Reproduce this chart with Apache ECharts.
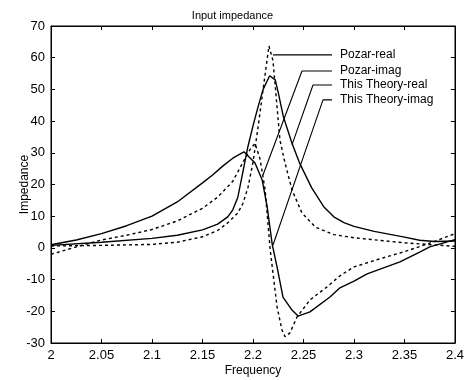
<!DOCTYPE html>
<html>
<head>
<meta charset="utf-8">
<script src="https://cdn.jsdelivr.net/npm/echarts@6/dist/echarts.min.js"></script>
<style>
  html, body { margin: 0; padding: 0; background: #fff; }
  #chart { width: 465px; height: 380px; }
</style>
</head>
<body>
<div id="chart"></div>
<script>
// curves: [frequency, impedance]
const theoryReal = [
  [2.0, 0.8], [2.05, 1.8], [2.1, 3.0], [2.125, 4.0], [2.15, 5.7], [2.165, 7.5],
  [2.175, 9.8], [2.18, 12], [2.185, 16], [2.19, 24], [2.195, 32], [2.2, 38.5],
  [2.205, 44.5], [2.21, 50], [2.2165, 54.3], [2.222, 53], [2.225, 49], [2.23, 41.5],
  [2.2386, 33], [2.2465, 26.5], [2.258, 19], [2.27, 13], [2.28, 9.8], [2.29, 8],
  [2.3, 6.8], [2.32, 5.2], [2.35, 3.4], [2.365, 2.4], [2.38, 2], [2.4, 2.2]
];
const theoryImag = [
  [2.0, 1], [2.025, 2.5], [2.05, 4.5], [2.075, 7], [2.1, 10], [2.125, 14.5],
  [2.15, 20.5], [2.16, 23], [2.17, 25.8], [2.18, 28.3], [2.191, 30.3], [2.202, 26.8],
  [2.209, 21.5], [2.214, 13], [2.219, 1.2], [2.2238, -6], [2.2297, -15.5],
  [2.2386, -19.6], [2.2446, -21.5], [2.2564, -20.2], [2.2762, -15.5], [2.2861, -12.6],
  [2.3, -10.5], [2.313, -8.2], [2.3455, -4.4], [2.365, -1.3], [2.375, 0.3], [2.4, 2.6]
];
const pozarReal = [
  [2.0, 0.6], [2.05, 0.8], [2.1, 1.1], [2.125, 1.8], [2.15, 3.5], [2.165, 5.5],
  [2.175, 7.9], [2.185, 11], [2.19, 14], [2.195, 19], [2.2, 27], [2.205, 38],
  [2.21, 50], [2.2158, 63.7], [2.2198, 59], [2.2238, 44.5], [2.2267, 34],
  [2.2317, 26.8], [2.2386, 18.3], [2.2485, 11], [2.262, 6.5], [2.28, 4.2],
  [2.3, 3.2], [2.35, 1.6], [2.4, 0.5]
];
const pozarImag = [
  [2.0, -2], [2.025, 0.3], [2.05, 2.5], [2.075, 4], [2.1, 5.8], [2.125, 8.5],
  [2.15, 12.5], [2.165, 16], [2.18, 21], [2.19, 27], [2.197, 31], [2.202, 33],
  [2.207, 28], [2.212, 18.3], [2.217, -0.5], [2.2198, -8], [2.2238, -18.6],
  [2.2287, -25.9], [2.2317, -28], [2.2366, -26.8], [2.2436, -21.8], [2.2564, -16.4],
  [2.2733, -12.3], [2.2861, -8.8], [2.3, -6], [2.325, -3.5], [2.35, -1.2],
  [2.375, 1.5], [2.4, 4.5]
];

// leader lines for the in-plot labels
const leaderPozarReal = [[2.2198, 60.9], [2.2782, 60.9]];
const leaderPozarImag = [[2.2099, 23.0], [2.2485, 55.8], [2.2782, 55.8]];
const leaderTheoryReal = [[2.2386, 32.5], [2.2594, 51.4], [2.2782, 51.4]];
const leaderTheoryImag = [[2.2198, 0.9], [2.2693, 46.7], [2.2782, 46.7]];

const FONT = '"Liberation Sans", Arial, sans-serif';

const chart = echarts.init(document.getElementById('chart'));

const curve = (name, data, dashed) => ({
  name: name,
  type: 'line',
  data: data,
  showSymbol: false,
  silent: true,
  lineStyle: { color: '#000', width: 1.4, type: dashed ? [3, 3] : 'solid' }
});

const leader = (name, data) => ({
  name: name,
  type: 'line',
  data: data,
  showSymbol: false,
  silent: true,
  lineStyle: { color: '#000', width: 1.1 },
  endLabel: {
    show: true,
    formatter: name,
    distance: 8,
    color: '#000',
    fontFamily: FONT,
    fontSize: 12
  }
});

const axisBase = {
  axisLine: { show: true, onZero: false, lineStyle: { color: '#000' } },
  axisTick: { inside: true, length: 4, lineStyle: { color: '#000' } },
  splitLine: { show: false }
};

const option = {
  animation: false,
  backgroundColor: '#fff',
  title: {
    text: 'Input impedance',
    left: 'center',
    top: 5,
    textStyle: { fontFamily: FONT, fontSize: 11, fontWeight: 'normal', color: '#000' }
  },
  grid: {
    left: 51, right: 10, top: 26, bottom: 37,
    outerBoundsMode: 'none', containLabel: false,
    show: true, borderColor: '#000', borderWidth: 1, backgroundColor: '#fff'
  },
  xAxis: [
    {
      ...axisBase,
      type: 'value', min: 2, max: 2.4, interval: 0.05,
      name: 'Frequency', nameLocation: 'middle', nameGap: 22, nameMoveOverlap: false,
      nameTextStyle: { fontFamily: FONT, fontSize: 12, color: '#000' },
      axisLabel: {
        margin: 6, color: '#000', fontFamily: FONT, fontSize: 13,
        formatter: v => String(Math.round(v * 100) / 100)
      }
    },
    {
      ...axisBase,
      type: 'value', min: 2, max: 2.4, interval: 0.05, position: 'top',
      axisLabel: { show: false }
    }
  ],
  yAxis: [
    {
      ...axisBase,
      type: 'value', min: -30, max: 70, interval: 10,
      name: 'Impedance', nameLocation: 'middle', nameGap: 20, nameMoveOverlap: false,
      nameTextStyle: { fontFamily: FONT, fontSize: 12, color: '#000' },
      axisLabel: { margin: 6, color: '#000', fontFamily: FONT, fontSize: 13 }
    },
    {
      ...axisBase,
      type: 'value', min: -30, max: 70, interval: 10, position: 'right',
      axisLabel: { show: false }
    }
  ],
  series: [
    curve('This Theory-real', theoryReal, false),
    curve('This Theory-imag', theoryImag, false),
    curve('Pozar-real', pozarReal, true),
    curve('Pozar-imag', pozarImag, true),
    leader('Pozar-real', leaderPozarReal),
    leader('Pozar-imag', leaderPozarImag),
    leader('This Theory-real', leaderTheoryReal),
    leader('This Theory-imag', leaderTheoryImag)
  ]
};

chart.setOption(option);
</script>
</body>
</html>
